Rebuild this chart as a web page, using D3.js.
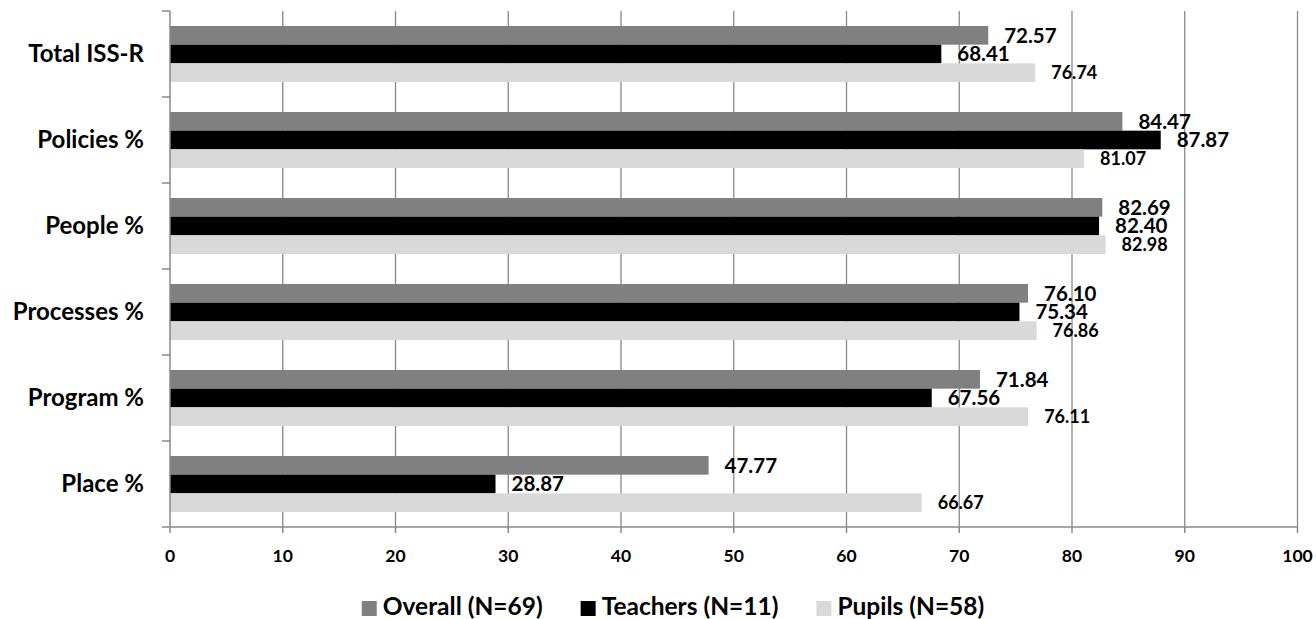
<!DOCTYPE html>
<html>
<head>
<meta charset="utf-8">
<script src="https://cdn.jsdelivr.net/npm/d3@7"></script>
<style>
  html, body { margin: 0; padding: 0; background: #fff; }
  svg text { font-family: Lato, "Open Sans", sans-serif; font-weight: bold; fill: #000; }
</style>
</head>
<body>
<svg id="chart" width="1316" height="619"></svg>
<script>
const categories = ["Total ISS-R", "Policies %", "People %", "Processes %", "Program %", "Place %"];
const seriesNames = ["Overall (N=69)", "Teachers (N=11)", "Pupils (N=58)"];
const overallValues = [72.57, 84.47, 82.69, 76.10, 71.84, 47.77];
const teacherValues = [68.41, 87.87, 82.40, 75.34, 67.56, 28.87];
const pupilValues = [76.74, 81.07, 82.98, 76.86, 76.11, 66.67];
const xTicks = [0, 10, 20, 30, 40, 50, 60, 70, 80, 90, 100];

(function () {
const seriesValues = [overallValues, teacherValues, pupilValues];
const colors = ["#808080", "#000000", "#d9d9d9"];
const labelSizes = [20.5, 20.5, 18];

const svg = d3.select("#chart");
const pL = 170, pR = 1297.5, pT = 11, pB = 527;
const gridColor = "#888888";

const x = d3.scaleLinear().domain([0, 100]).range([pL, pR]);
const pi = 0.349;
const y = d3.scaleBand().domain(categories).range([pT, pB]).paddingInner(pi).paddingOuter(pi / 2);
const ySub = d3.scaleBand().domain([0, 1, 2]).range([0, y.bandwidth()]);

// gridlines
svg.append("g").selectAll("line").data(xTicks.filter(t => t > 0)).join("line")
  .attr("x1", d => x(d)).attr("x2", d => x(d))
  .attr("y1", pT).attr("y2", pB)
  .attr("stroke", gridColor).attr("stroke-width", 1.3);

// bars
const rows = categories.map((c, i) => ({ c, vals: seriesValues.map(s => s[i]) }));
const groups = svg.append("g").selectAll("g").data(rows).join("g")
  .attr("transform", d => `translate(0,${y(d.c)})`);
groups.selectAll("rect").data(d => d.vals.map((v, k) => ({ v, k }))).join("rect")
  .attr("x", x(0))
  .attr("y", d => ySub(d.k))
  .attr("width", d => x(d.v) - x(0))
  .attr("height", ySub.bandwidth())
  .attr("fill", d => colors[d.k]);
groups.selectAll("text").data(d => d.vals.map((v, k) => ({ v, k }))).join("text")
  .attr("x", d => x(d.v) + 16)
  .attr("y", d => ySub(d.k) + ySub.bandwidth() / 2)
  .attr("dy", "0.35em")
  .style("font-size", d => labelSizes[d.k] + "px")
  .text(d => d.v.toFixed(2));

// y axis
const yAxis = svg.append("g");
yAxis.append("line").attr("x1", pL).attr("x2", pL).attr("y1", pT).attr("y2", pB)
  .attr("stroke", gridColor).attr("stroke-width", 1.5);
const boundaries = categories.map(c => y(c) - y.step() * pi / 2).concat([pB]);
yAxis.selectAll("line.t").data(boundaries).join("line").attr("class", "t")
  .attr("x1", pL - 8).attr("x2", pL).attr("y1", d => d).attr("y2", d => d)
  .attr("stroke", gridColor).attr("stroke-width", 1.5);
yAxis.selectAll("text").data(categories).join("text")
  .attr("x", 144).attr("y", d => y(d) + y.bandwidth() / 2)
  .attr("dy", "0.35em").attr("text-anchor", "end")
  .style("font-size", "24px")
  .text(d => d);

// x axis
const xAxis = svg.append("g");
xAxis.append("line").attr("x1", pL).attr("x2", pR).attr("y1", pB).attr("y2", pB)
  .attr("stroke", gridColor).attr("stroke-width", 1.5);
xAxis.selectAll("line.t").data(xTicks).join("line").attr("class", "t")
  .attr("x1", d => x(d)).attr("x2", d => x(d)).attr("y1", pB).attr("y2", pB + 6)
  .attr("stroke", gridColor).attr("stroke-width", 1.5);
xAxis.selectAll("text").data(xTicks).join("text")
  .attr("x", d => x(d)).attr("y", 562).attr("text-anchor", "middle")
  .style("font-size", "17.5px")
  .text(d => d);

// legend
const legend = svg.append("g");
const items = legend.selectAll("g").data(seriesNames).join("g");
items.append("rect").attr("width", 15).attr("height", 15).attr("y", 601)
  .attr("fill", (d, i) => colors[i]);
items.append("text").attr("x", 21).attr("y", 615).style("font-size", "24.5px").text(d => d);
const widths = [];
items.each(function () { widths.push(21 + d3.select(this).select("text").node().getComputedTextLength()); });
const gap = 38;
const total = d3.sum(widths) + gap * (widths.length - 1);
let cx = 673 - total / 2;
items.attr("transform", (d, i) => {
  const t = `translate(${cx},0)`;
  cx += widths[i] + gap;
  return t;
});
})();
</script>
</body>
</html>
